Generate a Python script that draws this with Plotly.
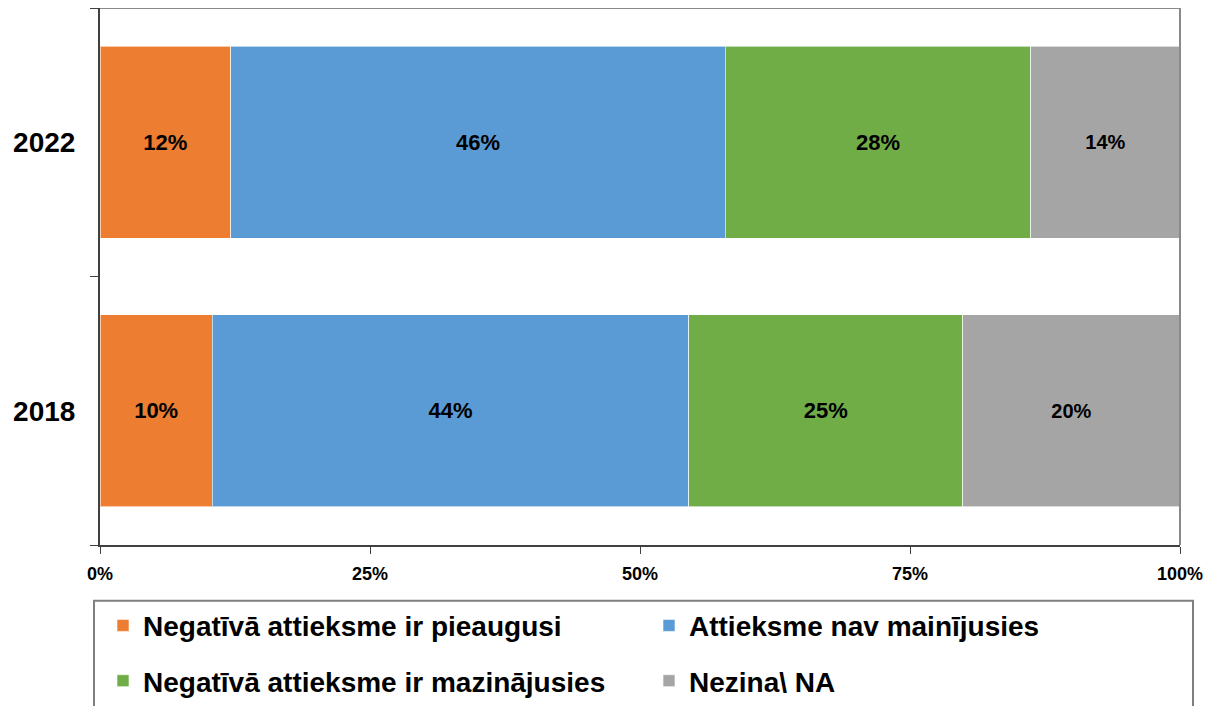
import plotly.graph_objects as go

years = ["2018", "2022"]
series_names = [
    "Negatīvā attieksme ir pieaugusi",
    "Attieksme nav mainījusies",
    "Negatīvā attieksme ir mazinājusies",
    "Nezina\\ NA",
]
# values per series, ordered as years (2018, 2022)
neg_up = [10.4, 12.1]
unchanged = [44.1, 45.8]
neg_down = [25.4, 28.3]
dont_know = [20.1, 13.8]
series_values = [neg_up, unchanged, neg_down, dont_know]
colors = ["#ED7D31", "#5B9BD5", "#70AD47", "#A5A5A5"]
text_sizes = [22, 22, 22, 20]
x_ticks = [0, 25, 50, 75, 100]
x_tick_labels = ["0%", "25%", "50%", "75%", "100%"]

FONT = "Liberation Sans, Arial, sans-serif"

# page body has an 8px margin; plot area target in page px: x 100..1180, y 8..547
OFF = 8
W, H = 1217 - OFF, 706 - OFF
L, R, T, B = 100 - OFF, 37, 8 - OFF, 159
pw, ph = W - L - R, H - T - B
X0, Y1 = L + OFF, T + OFF + ph  # page px of plot left / bottom


def px_x(p):
    return (p - X0) / pw


def px_y(p):
    return (Y1 - p) / ph


legend_ids = ["legend", "legend2", "legend3", "legend4"]
legend_pos = [(103, 628), (649, 628), (103, 684), (649, 684)]

fig = go.Figure()
for name, vals, col, ts, lg in zip(series_names, series_values, colors, text_sizes, legend_ids):
    fig.add_trace(go.Bar(
        y=years, x=vals, name=name, orientation="h",
        marker=dict(color=col, line=dict(color="rgba(255,255,255,0.6)", width=1)),
        texttemplate="%{x:.0f}%", textposition="inside", insidetextanchor="middle",
        textfont=dict(family=FONT, size=ts, color="black", weight="bold"),
        constraintext="none", legend=lg, showlegend=True, hoverinfo="skip",
    ))

legend_layouts = {}
for lg, (lx, ly) in zip(legend_ids, legend_pos):
    legend_layouts[lg] = dict(
        orientation="h", x=px_x(lx), xanchor="left", y=px_y(ly), yanchor="middle",
        font=dict(family=FONT, size=28, color="black", weight="bold"),
        bgcolor="rgba(0,0,0,0)", itemclick=False, itemdoubleclick=False,
        traceorder="normal", visible=True,
    )

fig.update_layout(
    barmode="stack", bargap=0.284,
    width=W, height=H, showlegend=True,
    margin=dict(l=L, r=R, t=T, b=B, pad=0),
    plot_bgcolor="white", paper_bgcolor="white",
    font=dict(family=FONT, color="black"),
    xaxis=dict(range=[0, 100], tickmode="array", tickvals=x_ticks, ticktext=x_tick_labels,
               showgrid=False, zeroline=False, showline=True, linecolor="#404040", linewidth=2,
               ticks="outside", ticklen=7, tickcolor="#404040", tickwidth=1,
               tickfont=dict(family=FONT, size=18, color="black", weight="bold"),
               ticklabelstandoff=4),
    yaxis=dict(categoryorder="array", categoryarray=years, showgrid=False,
               zeroline=False, showline=True, linecolor="#404040", linewidth=2,
               ticks="outside", ticklen=8, tickcolor="#404040", tickwidth=1,
               tickson="boundaries",
               tickfont=dict(family=FONT, size=28, color="black", weight="bold"),
               ticklabelstandoff=17),
    shapes=[
        dict(type="line", xref="paper", yref="paper", x0=0, x1=1, y0=1, y1=1,
             line=dict(color="#898989", width=2)),
        dict(type="line", xref="paper", yref="paper", x0=1, x1=1, y0=0, y1=1,
             line=dict(color="#898989", width=2)),
        dict(type="rect", xref="paper", yref="paper", x0=px_x(94), x1=px_x(1193),
             y0=px_y(603), y1=px_y(730), line=dict(color="#7f7f7f", width=2),
             fillcolor="rgba(0,0,0,0)", layer="below"),
    ],
    **legend_layouts,
)

fig.write_html("out.html")
